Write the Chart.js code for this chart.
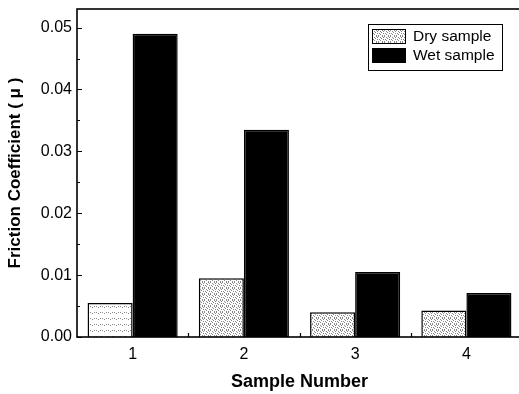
<!DOCTYPE html>
<html lang="en">
<head>
<meta charset="UTF-8">
<title>Friction Coefficient</title>
<script src="https://cdn.jsdelivr.net/npm/chart.js"></script>
<style>
  html, body { margin: 0; padding: 0; background: #fff; overflow: hidden; }
  /* a little wider than the window: the right edge of the frame falls outside, as in the picture */
  #box { width: 522px; height: 394px; }
</style>
</head>
<body>
<div id="box"><canvas id="grafico"></canvas></div>
<script>
// data
const categorias = ['1', '2', '3', '4'];
const drySample = [0.0055, 0.0095, 0.0040, 0.0043];
const wetSample = [0.0490, 0.0335, 0.0105, 0.0071];
const yTicks = [0, 0.01, 0.02, 0.03, 0.04, 0.05];
const nomes = ['Dry sample', 'Wet sample'];

const fonte = '"Liberation Sans", Arial, sans-serif';

// stipple texture for the dry bars
function pontilhado(densidade) {
    const c = document.createElement('canvas');
    c.width = 6; c.height = 6;
    const g = c.getContext('2d');
    g.fillStyle = '#fff';
    g.fillRect(0, 0, 6, 6);
    g.fillStyle = '#888';
    const pts = [[0,0],[2,1],[4,0],[1,3],[3,2],[5,3],[0,5],[2,4],[4,5],[5,1],[1,1],[3,4]];
    pts.slice(0, densidade).forEach(p => g.fillRect(p[0], p[1], 1, 1));
    return g.createPattern(c, 'repeat');
}
const dryClaro = pontilhado(3);
const dryEscuro = pontilhado(10);

const moldura = {
    id: 'moldura',
    afterDatasetsDraw(chart) {
        const ctx = chart.ctx;
        const a = chart.chartArea;
        const y = chart.scales.y;
        const x = chart.scales.x;
        ctx.save();
        ctx.strokeStyle = '#000';
        ctx.lineWidth = 1.6;
        ctx.strokeRect(a.left, a.top, a.right - a.left, a.bottom - a.top);

        // inward ticks on the y axis, majors and minors
        ctx.lineWidth = 1.2;
        ctx.beginPath();
        for (let v = 0; v <= 0.0501; v += 0.005) {
            const py = Math.round(y.getPixelForValue(v)) + 0.5;
            const major = Math.abs(v * 100 - Math.round(v * 100)) < 1e-6;
            ctx.moveTo(a.left, py);
            ctx.lineTo(a.left + (major ? 5 : 3), py);
        }
        // inward ticks on the x axis between categories
        for (let i = 1; i < categorias.length; i++) {
            const px = Math.round((x.getPixelForValue(i - 1) + x.getPixelForValue(i)) / 2) + 0.5;
            ctx.moveTo(px, a.bottom);
            ctx.lineTo(px, a.bottom - 4);
        }
        ctx.stroke();

        // legend box
        const lx = 368, ly = 24, lw = 134, lh = 46;
        ctx.fillStyle = '#fff';
        ctx.fillRect(lx, ly, lw, lh);
        ctx.lineWidth = 1;
        ctx.strokeStyle = '#000';
        ctx.strokeRect(lx + 0.5, ly + 0.5, lw, lh);
        const cores = [dryEscuro, '#000'];
        ctx.font = '15.5px ' + fonte;
        ctx.textBaseline = 'middle';
        nomes.forEach((n, i) => {
            const sy = ly + 5 + i * 19;
            ctx.fillStyle = cores[i];
            ctx.fillRect(lx + 4, sy, 34, 15);
            ctx.strokeRect(lx + 4.5, sy + 0.5, 33, 14);
            ctx.fillStyle = '#000';
            ctx.fillText(n, lx + 45, sy + 8);
        });
        ctx.restore();
    }
};

new Chart(document.getElementById('grafico'), {
    type: 'bar',
    data: {
        labels: categorias,
        datasets: [{
            label: nomes[0],
            data: drySample,
            backgroundColor: [dryClaro, dryEscuro, dryEscuro, dryEscuro],
            borderColor: '#000',
            borderWidth: 1.5,
            borderSkipped: 'bottom'
        }, {
            label: nomes[1],
            data: wetSample,
            backgroundColor: '#000',
            borderColor: '#000',
            borderWidth: 1.5,
            borderSkipped: 'bottom'
        }]
    },
    options: {
        responsive: true,
        maintainAspectRatio: false,
        animation: false,
        datasets: { bar: { categoryPercentage: 0.81, barPercentage: 1 } },
        layout: { padding: { top: 9, right: 0, left: 0, bottom: 0 } },
        plugins: {
            legend: { display: false },
            tooltip: { enabled: false }
        },
        scales: {
            x: {
                grid: { display: false, drawTicks: false },
                border: { display: false },
                ticks: { color: '#000', padding: 8, font: { family: fonte, size: 16 } },
                title: {
                    display: true,
                    text: 'Sample Number',
                    color: '#000',
                    padding: { top: 0, bottom: 1 },
                    font: { family: fonte, size: 18, weight: 'bold' }
                },
                afterFit: s => { s.height = 57; s.paddingLeft = 0; s.paddingRight = 0; }
            },
            y: {
                min: 0,
                max: 0.053,
                grid: { display: false, drawTicks: false },
                border: { display: false },
                afterBuildTicks: s => { s.ticks = yTicks.map(v => ({ value: v })); },
                ticks: {
                    color: '#000',
                    padding: 5,
                    callback: v => Number(v).toFixed(2),
                    font: { family: fonte, size: 16 }
                },
                title: {
                    display: true,
                    text: 'Friction Coefficient ( \u03bc )',
                    color: '#000',
                    padding: { top: 5, bottom: 0 },
                    font: { family: fonte, size: 17, weight: 'bold' }
                },
                afterFit: s => { s.width = 77; s.paddingTop = 0; s.paddingBottom = 0; }
            }
        }
    },
    plugins: [moldura]
});
</script>
</body>
</html>
